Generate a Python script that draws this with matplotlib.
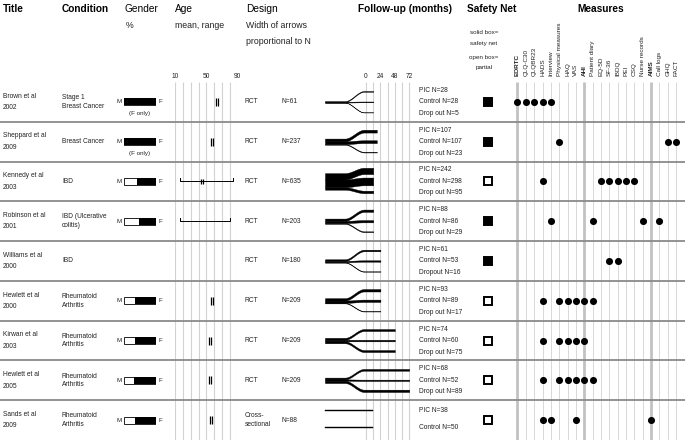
import numpy as np
import matplotlib
matplotlib.use("Agg")
import matplotlib.pyplot as plt
from matplotlib.transforms import blended_transform_factory as blend

plt.rcParams['font.family'] = ['Liberation Sans', 'DejaVu Sans']

# ---------------- data ----------------
titles = ["Brown et al\n2002", "Sheppard et al\n2009", "Kennedy et al\n2003",
          "Robinson et al\n2001", "Williams et al\n2000", "Hewlett et al\n2000",
          "Kirwan et al\n2003", "Hewlett et al\n2005", "Sands et al\n2009"]
conditions = ["Stage 1\nBreast Cancer", "Breast Cancer", "IBD", "IBD (Ulcerative\ncolitis)",
              "IBD", "Rheumatoid\nArthritis", "Rheumatoid\nArthritis",
              "Rheumatoid\nArthritis", "Rheumatoid\nArthritis"]
female_pct = [100, 100, 59, 53, None, 66, 66, 69, 66]
female_only = [True, True, False, False, False, False, False, False, False]
age_mean = [64, 57, 44, None, None, 57, 55, 55, 56]
age_min = [None, None, 16, 16, None, None, None, None, None]
age_max = [None, None, 84, 81, None, None, None, None, None]
designs = ["RCT"] * 8 + ["Cross-\nsectional"]
n_total = [61, 237, 635, 203, 180, 209, 209, 209, 88]
pic_n = [28, 107, 242, 88, 61, 93, 74, 68, 38]
control_n = [28, 107, 298, 86, 53, 89, 60, 52, 50]
dropout_n = [5, 23, 95, 29, 16, 17, 75, 89, None]
dropout_label = ["Drop out", "Drop out", "Drop out", "Drop out", "Dropout",
                 "Drop out", "Drop out", "Drop out", None]
followup_months = [12, 18, 12, 12, 24, 24, 48, 72, 12]
safety_net = ["solid", "solid", "open", "solid", "solid", "open", "open", "open", "open"]
measures = ["EORTC", "QLQ-C30", "QLQBR23", "HADS", "Interview", "Physical measures",
            "HAQ", "VAS", "AHI", "Patient diary", "EQ-5D", "SF-36", "IBDQ", "PEI",
            "CSQ", "Nurse records", "AIMS", "Call logs", "GHQ", "FACT"]
bold_measures = ["EORTC", "AHI", "AIMS"]
study_measures = [
    ["EORTC", "QLQ-C30", "QLQBR23", "HADS", "Interview"],
    ["Physical measures", "GHQ", "FACT"],
    ["HADS", "EQ-5D", "SF-36", "IBDQ", "PEI", "CSQ"],
    ["Interview", "Patient diary", "Nurse records", "Call logs"],
    ["SF-36", "IBDQ"],
    ["HADS", "Physical measures", "HAQ", "VAS", "AHI", "Patient diary"],
    ["HADS", "Physical measures", "HAQ", "VAS", "AHI"],
    ["HADS", "Physical measures", "HAQ", "VAS", "AHI", "Patient diary"],
    ["HADS", "Interview", "VAS", "AIMS"],
]
age_ticks = [10, 50, 90]
fu_ticks = [0, 24, 48, 72]

# ---------------- layout ----------------
W, H = 685, 441
ROW_TOP, ROW_BOT = 82, 440
nrows = len(titles)
rows = np.arange(nrows) + 0.5
TXT = '#222222'

fig = plt.figure(figsize=(W / 100, H / 100), dpi=100)
bg = fig.add_axes([0, 0, 1, 1])
bg.set_xlim(0, W); bg.set_ylim(H, 0); bg.axis('off')


def col_axes(x0, x1, xlim):
    ax = fig.add_axes([x0 / W, 1 - ROW_BOT / H, (x1 - x0) / W, (ROW_BOT - ROW_TOP) / H])
    ax.set_xlim(*xlim); ax.set_ylim(nrows, 0); ax.axis('off')
    ax.patch.set_visible(False)
    return ax


tab = col_axes(0, W, (0, W))
gen_ax = col_axes(124, 156, (0, 100))
age_ax = col_axes(175.3, 237.3, (10, 90))
fu_ax = col_axes(320, 415, ((320 - 366) / 0.6, (415 - 366) / 0.6))
m_ax = col_axes(513.3, 680.3, (-0.5, len(measures) - 0.5))

# ---------------- headers ----------------
hdr = dict(fontsize=7.3, va='center', ha='left', color='black')
bg.text(3, 9, "Title", fontweight='bold', **hdr)
bg.text(62, 9, "Condition", fontweight='bold', **hdr)
bg.text(125, 9, "Gender", **hdr)
bg.text(175, 9, "Age", **hdr)
bg.text(246, 9, "Design", **hdr)
bg.text(358, 9, "Follow-up (months)", fontweight='bold', **hdr)
bg.text(467, 9, "Safety Net", fontweight='bold', **hdr)
bg.text(577, 9, "Measures", fontweight='bold', **hdr)
sub = dict(fontsize=6.3, va='center', ha='left', color='#222222')
bg.text(126, 25, "%", **sub)
bg.text(175, 25, "mean, range", **sub)
bg.text(246, 25, "Width of arrows", **sub)
bg.text(246, 42, "proportional to N", **sub)
note = dict(fontsize=4.5, va='center', ha='center', color='#222222')
bg.text(484, 33, "solid box=", **note)
bg.text(484, 43, "safety net", **note)
bg.text(484, 57, "open box=", **note)
bg.text(484, 67, "partial", **note)

# ---------------- text columns ----------------
small = dict(fontsize=4.8, va='center', ha='left', color=TXT)
for i, r in enumerate(rows):
    tab.text(3, r, titles[i], linespacing=1.9, **small)
    tab.text(62, r, conditions[i], linespacing=1.3, **small)
    tab.text(245, r, designs[i], linespacing=1.3, **small)
    tab.text(282, r, f"N={n_total[i]}", **small)
    if dropout_n[i] is not None:
        tab.text(419, r - 0.29, f"PIC N={pic_n[i]}", **small)
        tab.text(419, r, f"Control N={control_n[i]}", **small)
        tab.text(419, r + 0.29, f"{dropout_label[i]} N={dropout_n[i]}", **small)
    else:
        tab.text(419, r - 0.23, f"PIC N={pic_n[i]}", **small)
        tab.text(419, r + 0.18, f"Control N={control_n[i]}", **small)
    # safety net box
    solid = safety_net[i] == "solid"
    tab.plot(488, r, marker='s', ms=5.2, mfc='black' if solid else 'white',
             mec='black', mew=1.4, ls='none')

# ---------------- gender ----------------
for i, f in enumerate(female_pct):
    if f is None:
        continue
    r = rows[i]
    gen_ax.barh(r, 100, left=0, height=0.18, color='white', edgecolor='black', lw=0.6)
    gen_ax.barh(r, f, left=100 - f, height=0.18, color='black', lw=0)
    tab.text(116.5, r, "M", fontsize=4.5, va='center', ha='left', color=TXT)
    tab.text(158.5, r, "F", fontsize=4.5, va='center', ha='left', color=TXT)
    if female_only[i]:
        tab.text(140, r + 0.3, "(F only)", fontsize=4.5, va='center', ha='center', color=TXT)

# ---------------- age ----------------
age_ax.vlines(np.arange(10, 91, 10), 0, nrows, color='#d2d2d2', lw=0.8, zorder=0)
for v in age_ticks:
    age_ax.text(v, 76, str(v), transform=blend(age_ax.transData, bg.transData),
                fontsize=4.8, ha='center', va='center', color=TXT)
for i, r in enumerate(rows):
    if age_min[i] is not None:
        lo, hi = age_min[i], age_max[i]
        age_ax.plot([lo, lo, hi, hi], [r - 0.08, r, r, r - 0.08], color='black', lw=0.7)
    if age_mean[i] is not None:
        m = age_mean[i]
        hh = 0.1 if age_min[i] is None else 0.07
        age_ax.vlines([m - 1.2, m + 1.2], r - hh, r + hh, color='black', lw=0.9)

# ---------------- follow-up ----------------
fu_ax.vlines(np.arange(0, 73, 12), 0, nrows, color='#d2d2d2', lw=0.8, zorder=0)
for v in fu_ticks:
    fu_ax.text(v, 76, str(v), transform=blend(fu_ax.transData, bg.transData),
               fontsize=4.8, ha='center', va='center', color=TXT)

STEM0 = (325 - 366) / 0.6
STEM1 = (345 - 366) / 0.6
TRANS1 = (364 - 366) / 0.6
K = 0.026 / ((ROW_BOT - ROW_TOP) / nrows)   # rows of thickness per participant


def band(y0, y1, th, x_end):
    x = np.linspace(STEM0, x_end, 400)
    t = np.clip((x - STEM1) / (TRANS1 - STEM1), 0, 1)
    s = t * t * (3 - 2 * t)
    yc = y0 + (y1 - y0) * s
    fu_ax.fill_between(x, yc - th / 2, yc + th / 2, color='black', lw=0.3,
                       edgecolor='black', zorder=2)


for i, r in enumerate(rows):
    end = followup_months[i]
    if dropout_n[i] is not None:
        ns = [pic_n[i], control_n[i], dropout_n[i]]
        th = [n * K for n in ns]
        T = sum(th)
        starts = [r - T / 2 + sum(th[:j]) + th[j] / 2 for j in range(3)]
        ends = [r - 0.264, r, r + 0.264]
        for j in range(3):
            band(starts[j], ends[j], th[j], end)
    else:
        for n, off in zip([pic_n[i], control_n[i]], [-0.23, 0.18]):
            band(r + off, r + off, n * K, end)

# ---------------- measures ----------------
for j, name in enumerate(measures):
    isb = name in bold_measures
    m_ax.vlines(j, 0, nrows, color='#c2c2c2' if isb else '#d8d8d8',
                lw=2.0 if isb else 0.7, zorder=0)
    m_ax.text(j, 76, name, rotation=90, ha='center', va='bottom', fontsize=4.6,
              fontweight='bold' if isb else 'normal', color=TXT,
              transform=blend(m_ax.transData, bg.transData))
for i, r in enumerate(rows):
    cols = [measures.index(mm) for mm in study_measures[i]]
    m_ax.scatter(cols, [r] * len(cols), s=26, color='black', zorder=3, clip_on=False,
                 linewidths=0)

# ---------------- row separators ----------------
sep = col_axes(0, W, (0, W))
sep.hlines(np.arange(1, nrows), 0, W, color='#8a8a8a', lw=1.3)

fig.savefig("out.png", dpi=100)
